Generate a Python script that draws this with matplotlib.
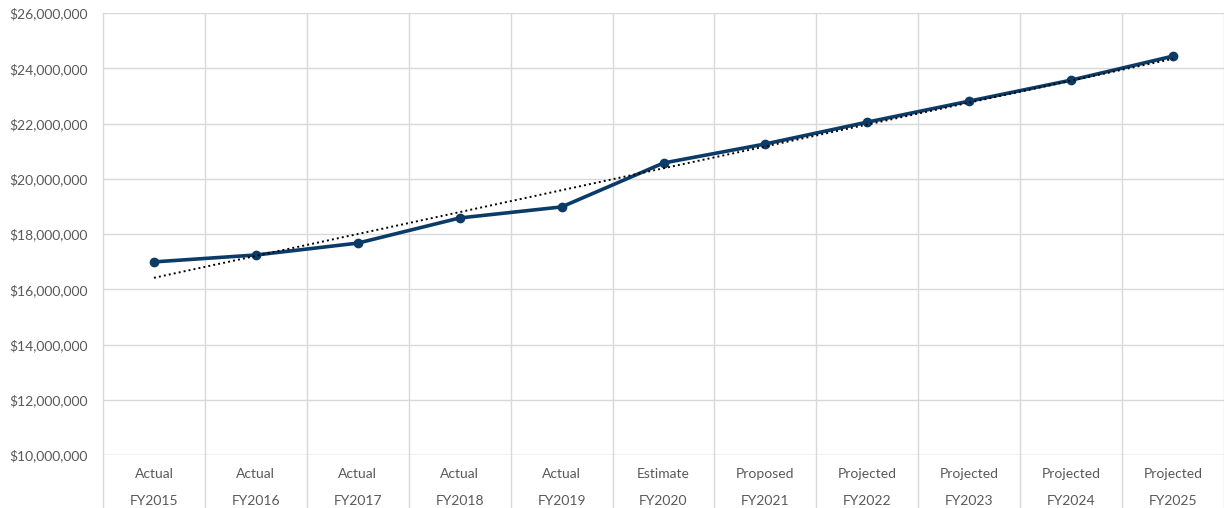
import matplotlib
matplotlib.use("Agg")
import matplotlib.pyplot as plt
import matplotlib.transforms as mtransforms
from matplotlib.ticker import FuncFormatter
import numpy as np

stages = ["Actual", "Actual", "Actual", "Actual", "Actual", "Estimate",
          "Proposed", "Projected", "Projected", "Projected", "Projected"]
years = ["FY2015", "FY2016", "FY2017", "FY2018", "FY2019", "FY2020",
         "FY2021", "FY2022", "FY2023", "FY2024", "FY2025"]
budget = [16990000, 17240000, 17670000, 18580000, 18980000, 20570000,
          21260000, 22050000, 22810000, 23570000, 24440000]

plt.rcParams["font.family"] = ["Lato", "DejaVu Sans"]
text_grey = "#595959"
grid_grey = "#d9d9d9"

fig = plt.figure(figsize=(12.24, 5.08), dpi=100)
ax = fig.add_axes([103 / 1224, 53 / 508, 1 - 103 / 1224, 442 / 508])

x = np.arange(len(years))
ax.plot(x, budget, color="#0b3c68", lw=2.6, marker="o", ms=6, zorder=3,
        solid_capstyle="round")

# linear trend line
slope, icpt = np.polyfit(x, budget, 1)
ax.plot(x, slope * x + icpt, color="black", lw=1.4, ls=(0, (1, 1.6)), zorder=4)

ax.set_xlim(-0.5, len(years) - 0.5)
ax.set_ylim(10000000, 26000000)
ax.set_yticks(np.arange(10000000, 26000001, 2000000))
ax.yaxis.set_major_formatter(FuncFormatter(lambda v, p: "${:,.0f}".format(v)))
ax.tick_params(axis="y", length=0, pad=11, labelsize=10, labelcolor=text_grey)
ax.set_xticks([])
ax.grid(axis="y", color=grid_grey, lw=1)
for s in ax.spines.values():
    s.set_visible(False)
ax.axhline(10000000, color=grid_grey, lw=1, zorder=1)

# category dividers run down through the label area
trans = mtransforms.blended_transform_factory(ax.transData, ax.transAxes)
for b in np.arange(-0.5, len(years), 1.0):
    ax.plot([b, b], [-0.125, 1], transform=trans, color=grid_grey, lw=1,
            clip_on=False, zorder=1)

for i in range(len(years)):
    ax.text(i, -0.042, stages[i], transform=trans, ha="center", va="center",
            fontsize=10, color=text_grey)
    ax.text(i, -0.103, years[i], transform=trans, ha="center", va="center",
            fontsize=10, color=text_grey)

fig.savefig("out.png", dpi=100)
